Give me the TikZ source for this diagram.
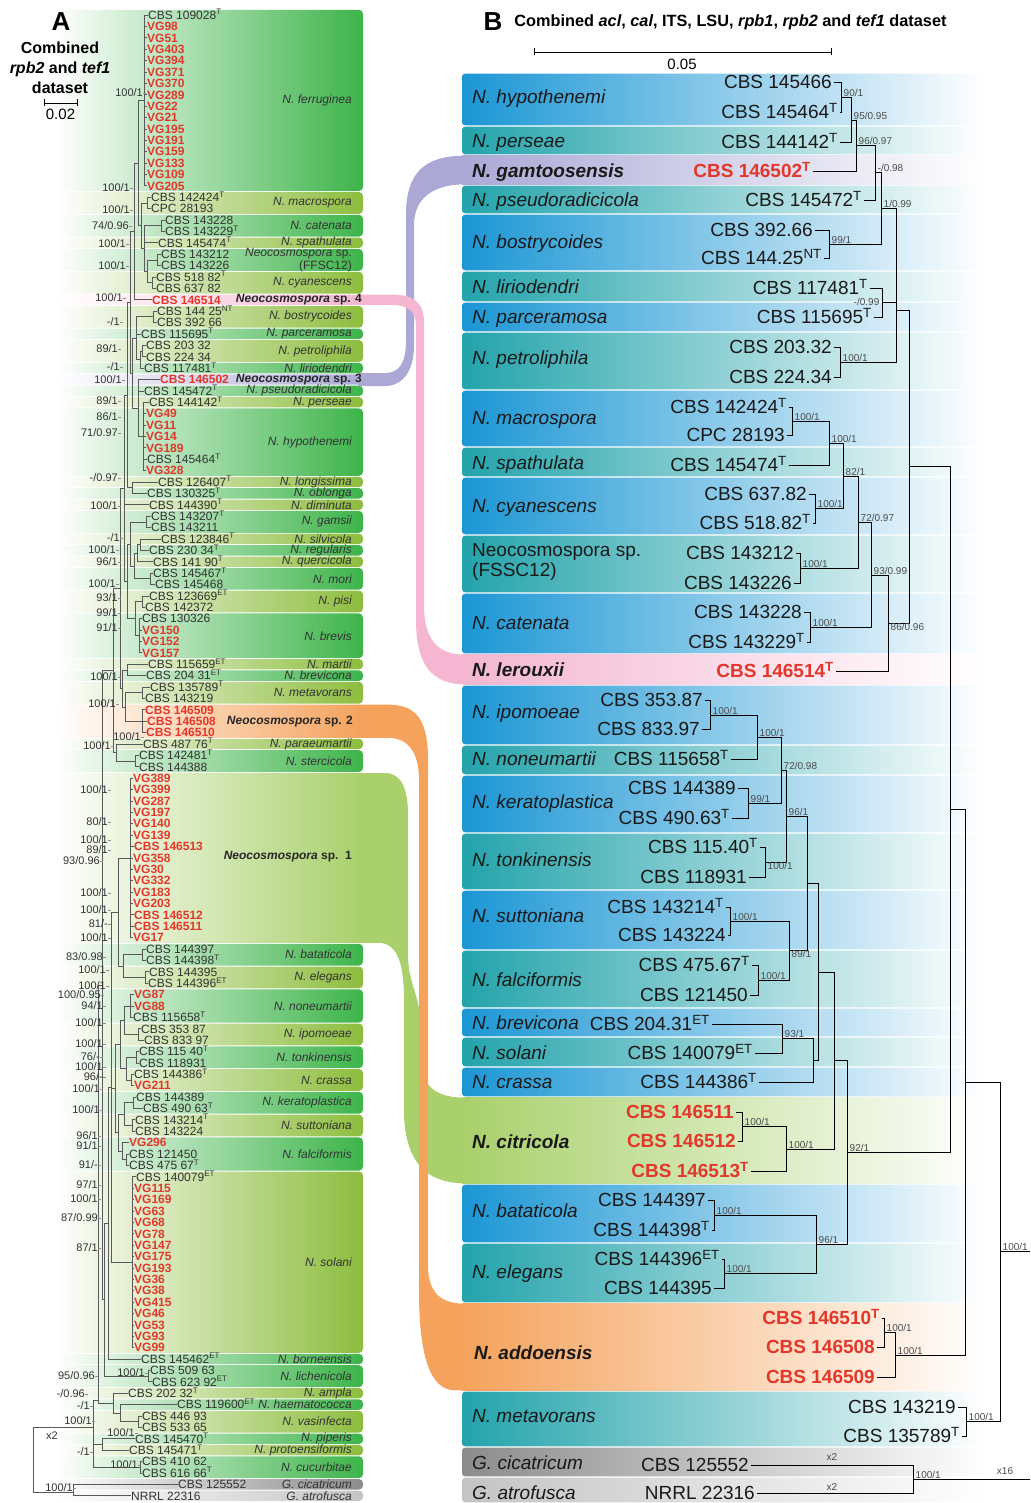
\documentclass[tikz,border=0pt]{standalone}
\usepackage{fontspec}
\setmainfont{Liberation Sans}
\usetikzlibrary{positioning}

\definecolor{grnA}{HTML}{3DB44A}
\definecolor{olvA}{HTML}{8DBD3E}
\definecolor{lgtA}{HTML}{A9D06B}
\definecolor{pnkA}{HTML}{F4B6D1}
\definecolor{lavA}{HTML}{ABA8D6}
\definecolor{orgA}{HTML}{F5A25C}
\definecolor{gryD}{HTML}{8C8C8C}
\definecolor{gryL}{HTML}{C4C4C4}
\definecolor{bluB}{HTML}{1B96D4}
\definecolor{tealB}{HTML}{23A3AB}
\definecolor{redT}{HTML}{E2382B}
\definecolor{txtA}{HTML}{333333}

\newcommand{\sps}[1]{\textsuperscript{#1}}
\pgfmathdeclarefunction{rowy}{1}{\pgfmathparse{15+11.39*(#1-1)}}

\begin{document}
\begin{tikzpicture}[
  x=1pt, y=-1pt,
  lfA/.style={font=\fontsize{12}{12}\selectfont, text=txtA, inner sep=0pt, anchor=west, text height=8.6pt, text depth=0pt},
  rdA/.style={lfA, text=redT, font=\fontsize{12}{12}\selectfont\bfseries},
  spA/.style={font=\fontsize{12}{13}\selectfont\itshape, text=txtA, inner sep=0pt, anchor=east, align=right},
  bspA/.style={font=\fontsize{12}{12}\selectfont\bfseries\itshape, text=black!85, inner sep=0pt, anchor=east},
  supA/.style={font=\fontsize{11}{11}\selectfont, text=txtA, inner sep=0pt, anchor=east},
  brA/.style={draw=black!65, line width=0.7pt},
  ldA/.style={draw=black!45, line width=0.45pt},
  lfB/.style={font=\fontsize{19}{19}\selectfont, text=black!90, inner sep=0pt, anchor=east, text height=13.6pt, text depth=0pt},
  rdB/.style={lfB, text=redT, font=\fontsize{19}{19}\selectfont\bfseries},
  spB/.style={font=\fontsize{19}{19}\selectfont\itshape, text=black!90, inner sep=0pt, anchor=west, text height=13.6pt, text depth=0pt},
  bsB/.style={spB, font=\fontsize{19}{19}\selectfont\bfseries\itshape},
  supB/.style={font=\fontsize{10}{10}\selectfont, text=black!70, inner sep=0.5pt},
  brB/.style={draw=black, line width=0.9pt},
  bl/.style={brB, shorten <=2pt},
  bll/.style={brB, shorten <=2pt, shorten >=2pt}
]
\useasboundingbox (0,0) rectangle (1030,1503);

% ---------------- Panel A: clade bands
\foreach \ra/\rb/\cl/\lbl [count=\k] in {
  1/16/grnA/{N. ferruginea}, 17/18/olvA/{N. macrospora}, 19/20/grnA/{N. catenata},
  21/21/olvA/{N. spathulata}, 22/23/grnA/{Neocosmospora \textup{sp.}\\\textup{(FFSC12)}},
  24/25/olvA/{N. cyanescens}, 26/26/pnkA/{}, 27/28/olvA/{N. bostrycoides},
  29/29/grnA/{N. parceramosa}, 30/31/olvA/{N. petroliphila}, 32/32/grnA/{N. liriodendri},
  33/33/lavA/{}, 34/34/grnA/{N. pseudoradicicola}, 35/35/olvA/{N. perseae},
  36/41/grnA/{N. hypothenemi}, 42/42/olvA/{N. longissima}, 43/43/grnA/{N. oblonga},
  44/44/olvA/{N. diminuta}, 45/46/grnA/{N. gamsii}, 47/47/olvA/{N. silvicola},
  48/48/grnA/{N. regularis}, 49/49/olvA/{N. quercicola}, 50/51/grnA/{N. mori},
  52/53/olvA/{N. pisi}, 54/57/grnA/{N. brevis}, 58/58/olvA/{N. martii},
  59/59/grnA/{N. brevicona}, 60/61/olvA/{N. metavorans}, 62/64/orgA/{},
  65/65/olvA/{N. paraeumartii}, 66/67/grnA/{N. stercicola}, 68/82/lgtA/{},
  83/84/grnA/{N. bataticola}, 85/86/olvA/{N. elegans}, 87/89/grnA/{N. noneumartii},
  90/91/olvA/{N. ipomoeae}, 92/93/grnA/{N. tonkinensis}, 94/95/olvA/{N. crassa},
  96/97/grnA/{N. keratoplastica}, 98/99/olvA/{N. suttoniana}, 100/102/grnA/{N. falciformis},
  103/118/olvA/{N. solani}, 119/119/grnA/{N. borneensis}, 120/121/grnA/{N. lichenicola},
  122/122/olvA/{N. ampla}, 123/123/grnA/{N. haematococca}, 124/125/olvA/{N. vasinfecta},
  126/126/grnA/{N. piperis}, 127/127/olvA/{N. protoensiformis}, 128/129/grnA/{N. cucurbitae},
  130/130/gryD/{G. cicatricum}, 131/131/gryL/{G. atrofusca}}{
  \pgfmathsetmacro\yt{rowy(\ra)-5.2}
  \pgfmathsetmacro\yb{rowy(\rb)+5.2}
  \pgfmathsetmacro\ym{(rowy(\ra)+rowy(\rb))/2}
  \shade[left color=white, right color=\cl, rounded corners=4pt] (55,\yt) rectangle (363,\yb);
  \node[spA] (bandA\k) at (352,\ym) {\lbl};
}

% ---------------- Panel B: clade bands
\foreach \yt/\yb/\cl in {73/126/bluB, 126/155/tealB, 185/214/tealB, 214/271/bluB,
  271/302/tealB, 302/332/bluB, 332/390/tealB, 390/447/bluB, 447/477/tealB,
  477/535/bluB, 535/593/tealB, 593/654/bluB, 685/745/bluB, 745/775/tealB,
  775/833/bluB, 833/890/tealB, 890/950/bluB, 950/1008/tealB, 1008/1037/bluB,
  1037/1067/tealB, 1067/1097/bluB, 1184/1243/bluB, 1243/1303/tealB,
  1391/1447/tealB, 1447/1477/gryD, 1477/1503/gryL}
  \shade[left color=\cl, right color=white, rounded corners=3pt] (462,\yt+0.7) rectangle (985,\yb-0.7);
\foreach \yt/\yb/\cl in {155/185/lavA, 654/685/pnkA, 1097/1184/lgtA, 1303/1391/orgA}
  \shade[left color=\cl, right color=white] (462,\yt+0.7) rectangle (985,\yb-0.7);

% ---------------- ribbons linking the new species
\fill[lavA] (358,373) -- (385,373) .. controls (400,373) and (406,362) .. (406,340)
  -- (406,215) .. controls (406,172) and (425,155.7) .. (465,155.7) -- (465,184.3)
  .. controls (435,184.3) and (414,197) .. (414,225) -- (414,345)
  .. controls (414,372) and (402,386) .. (385,386) -- (358,386) -- cycle;
\fill[pnkA] (358,294.6) -- (392,294.6) .. controls (410,294.6) and (424,300) .. (424,322)
  -- (424,605) .. controls (424,640) and (438,654.7) .. (465,654.7) -- (465,684.3)
  .. controls (432,684.3) and (416,665) .. (416,620) -- (416,325)
  .. controls (416,312) and (408,305) .. (392,305) -- (358,305) -- cycle;
\fill[lgtA] (358,773) -- (385,773) .. controls (402,773) and (408,790) .. (408,815)
  -- (408,955) .. controls (408,985) and (421,995) .. (421,1030) -- (421,1060)
  .. controls (421,1085) and (435,1097.7) .. (465,1097.7) -- (465,1183.3)
  .. controls (425,1183.3) and (404,1160) .. (404,1110) -- (404,1000)
  .. controls (404,960) and (396,942.8) .. (378,942.8) -- (358,942.8) -- cycle;
\fill[orgA] (358,704.6) -- (388,704.6) .. controls (418,704.6) and (428,722) .. (428,760)
  -- (428,1265) .. controls (428,1292) and (440,1303.7) .. (465,1303.7) -- (465,1390.3)
  -- (455,1390.3) .. controls (428,1390.3) and (419,1350) .. (419,1290) -- (419,780)
  .. controls (419,752) and (408,737.8) .. (388,737.8) -- (358,737.8) -- cycle;

% ---------------- Panel A: headings and scale
\node[font=\fontsize{26}{26}\selectfont\bfseries] (hdA) at (61,22) {A};
\node[font=\fontsize{16}{20}\selectfont\bfseries, align=center] (ttA) at (60,68) {Combined\\\textit{rpb2} and \textit{tef1}\\dataset};
\coordinate (scA1) at (44,103);
\coordinate (scA2) at (77,103);
\draw[line width=0.9pt] (scA1) -- (scA2) (scA1) ++(0,-3.5) -- ++(0,7) (scA2) ++(0,-3.5) -- ++(0,7);
\node[font=\fontsize{15}{15}\selectfont] (scAl) at (60.5,114) {0.02};

% ---------------- Panel A: tree
\foreach \x/\ya/\yb/\px/\by in {
  144/15/185.9/138/100.5, 147/197.2/208.6/141/202.9, 161/220/231.4/144/225.7,
  157/254.2/265.6/147/259.9, 152/277/288.4/147/282.7, 147/259.9/282.7/144/271.3,
  144/225.7/271.3/141/248.5, 141/202.9/248.5/138/225.7, 138/100.5/225.7/134/163.1,
  134/163.1/299.8/130/231.5, 153/311.1/322.5/136/316.8, 142/345.3/356.7/140/351,
  140/351/368.1/136/359.6, 136/316.8/359.6/132/338.2, 143/402.3/470.6/138/436.5,
  138/379.5/436.5/132/408, 132/338.2/408/130/373.1, 130/231.5/373.1/127/302.3,
  132/482/493.4/127/487.7, 127/302.3/487.7/124/395, 146/516.2/527.6/130/521.9,
  140/538.9/550.3/137/544.6, 137/544.6/561.7/134/553.2, 150/573.1/584.5/134/578.8,
  134/553.2/578.8/130/566, 130/521.9/566/127/544, 142/595.9/607.3/135/601.6,
  139/618.7/652.8/135/635.8, 135/601.6/635.8/127/618.7, 127/544/618.7/124/581.4,
  124/395/581.4/120/488.2, 127/664.2/675.6/122/669.9, 142/687/698.4/125/692.7,
  142/709.8/732.6/125/721.2, 125/692.7/721.2/122/707, 122/669.9/707/120/688.5,
  120/488.2/688.5/113/588.4, 135/755.4/766.7/116/761, 116/744/761/113/752.5,
  113/588.4/752.5/102/670.5, 130/778.1/937.6/118/857.9, 142/949/960.4/123/954.7,
  145/971.8/983.2/123/977.5, 123/954.7/977.5/118/966.1, 118/857.9/966.1/111/912,
  130/994.5/1017.3/124/1005.9, 138/1028.7/1040.1/124/1034.4, 124/1005.9/1034.4/120/1020.2,
  136/1051.5/1062.9/126/1057.2, 131/1074.3/1085.7/126/1080, 126/1057.2/1080/120/1068.6,
  120/1020.2/1068.6/115/1044.4, 133/1097.1/1108.4/124/1102.8, 132/1119.8/1131.2/124/1125.5,
  124/1102.8/1125.5/118/1114.2, 126/1154/1165.4/122/1159.7, 122/1142.6/1159.7/118/1151.2,
  118/1114.2/1151.2/115/1132.7, 115/1044.4/1132.7/111/1088.6, 132/1176.8/1347.6/111/1262.2,
  111/912/1262.2/108/1087.1, 108/1087.1/1359/104/1223, 148/1370.4/1381.8/104/1376.1,
  104/1223/1376.1/102/1299.5, 102/670.5/1299.5/98/985, 138/1416/1427.4/120/1421.7,
  120/1404.6/1421.7/113/1413.1, 113/1393.2/1413.1/98/1403.2, 98/985/1403.2/93/1400,
  102/1438.8/1450.1/93/1444.5, 140/1461.5/1472.9/93/1467.2, 93/1400/1467.2/33/1427,
  73/1484.3/1495.7/33/1492, 33/1427/1492/33/1460}
  \draw[brA] (\x,\ya) -- (\x,\yb) (\px,\by) -- (\x,\by);

% Panel A: strains (black)
\foreach \i/\xt/\xb/\txt in {
  1/148/144/{CBS 109028\sps{T}}, 17/151/147/{CBS 142424\sps{T}}, 18/151/147/{CPC 28193},
  19/165/161/{CBS 143228}, 20/165/161/{CBS 143229\sps{T}}, 21/158/144/{CBS 145474\sps{T}},
  22/161/157/{CBS 143212}, 23/161/157/{CBS 143226}, 24/156/152/{CBS 518 82\sps{T}},
  25/156/152/{CBS 637 82}, 27/157/153/{CBS 144 25\sps{NT}}, 28/157/153/{CBS 392 66},
  29/141/136/{CBS 115695\sps{T}}, 30/146/142/{CBS 203 32}, 31/146/142/{CBS 224 34},
  32/144/140/{CBS 117481\sps{T}}, 34/144/138/{CBS 145472\sps{T}}, 35/149/143/{CBS 144142\sps{T}},
  40/147/143/{CBS 145464\sps{T}}, 42/158/132/{CBS 126407\sps{T}}, 43/147/132/{CBS 130325\sps{T}},
  44/149/124/{CBS 144390\sps{T}}, 45/151/146/{CBS 143207\sps{T}}, 46/151/146/{CBS 143211},
  47/161/140/{CBS 123846\sps{T}}, 48/149/140/{CBS 230 34\sps{T}}, 49/153/137/{CBS 141 90\sps{T}},
  50/153/150/{CBS 145467\sps{T}}, 51/155/150/{CBS 145468}, 52/149/142/{CBS 123669\sps{ET}},
  53/145/142/{CBS 142372}, 54/142/139/{CBS 130326}, 58/148/127/{CBS 115659\sps{ET}},
  59/146/127/{CBS 204 31\sps{ET}}, 60/150/142/{CBS 135789\sps{T}}, 61/145/142/{CBS 143219},
  65/143/116/{CBS 487 76\sps{T}}, 66/139/135/{CBS 142481\sps{T}}, 67/139/135/{CBS 144388},
  83/146/142/{CBS 144397}, 84/146/142/{CBS 144398\sps{T}}, 85/149/145/{CBS 144395},
  86/148/145/{CBS 144396\sps{ET}}, 89/133/130/{CBS 115658\sps{T}}, 90/141/138/{CBS 353 87},
  91/144/138/{CBS 833 97}, 92/139/136/{CBS 115 40\sps{T}}, 93/139/136/{CBS 118931},
  94/134/131/{CBS 144386\sps{T}}, 96/136/133/{CBS 144389}, 97/143/133/{CBS 490 63\sps{T}},
  98/135/132/{CBS 143214\sps{T}}, 99/135/132/{CBS 143224}, 101/129/126/{CBS 121450},
  102/129/126/{CBS 475 67\sps{T}}, 103/136/132/{CBS 140079\sps{ET}}, 119/141/108/{CBS 145462\sps{ET}},
  120/150/148/{CBS 509 63}, 121/152/148/{CBS 623 92\sps{ET}}, 122/128/113/{CBS 202 32\sps{T}},
  123/177/120/{CBS 119600\sps{ET}}, 124/142/138/{CBS 446 93}, 125/142/138/{CBS 533 65},
  126/135/102/{CBS 145470\sps{T}}, 127/129/102/{CBS 145471\sps{T}}, 128/142/140/{CBS 410 62},
  129/142/140/{CBS 616 66\sps{T}}, 130/178/73/{CBS 125552}, 131/131/73/{NRRL 22316}}{
  \node[lfA] (a\i) at (\xt,{rowy(\i)}) {\txt};
  \draw[brA] (\xb,{rowy(\i)}) -- (a\i.west);
}
% Panel A: strains (red)
\foreach \i/\xt/\xb/\txt in {
  2/147/144/VG98, 3/147/144/VG51, 4/147/144/VG403, 5/147/144/VG394, 6/147/144/VG371,
  7/147/144/VG370, 8/147/144/VG289, 9/147/144/VG22, 10/147/144/VG21, 11/147/144/VG195,
  12/147/144/VG191, 13/147/144/VG159, 14/147/144/VG133, 15/147/144/VG109, 16/147/144/VG205,
  26/152/134/{CBS 146514}, 33/160/138/{CBS 146502}, 36/146/143/VG49, 37/146/143/VG11,
  38/146/143/VG14, 39/146/143/VG189, 41/146/143/VG328, 55/142/139/VG150, 56/142/139/VG152,
  57/142/139/VG157, 62/145/142/{CBS 146509}, 63/147/142/{CBS 146508}, 64/146/142/{CBS 146510},
  68/133/130/VG389, 69/133/130/VG399, 70/133/130/VG287, 71/133/130/VG197, 72/133/130/VG140,
  73/133/130/VG139, 74/134/130/{CBS 146513}, 75/133/130/VG358, 76/133/130/VG30,
  77/133/130/VG332, 78/133/130/VG183, 79/133/130/VG203, 80/134/130/{CBS 146512},
  81/134/130/{CBS 146511}, 82/133/130/VG17, 87/134/130/VG87, 88/134/130/VG88,
  95/134/131/VG211, 100/129/122/VG296, 104/134/132/VG115, 105/134/132/VG169,
  106/134/132/VG63, 107/134/132/VG68, 108/134/132/VG78, 109/134/132/VG147,
  110/134/132/VG175, 111/134/132/VG193, 112/134/132/VG36, 113/134/132/VG38,
  114/134/132/VG415, 115/134/132/VG46, 116/134/132/VG53, 117/134/132/VG93, 118/134/132/VG99}{
  \node[rdA] (a\i) at (\xt,{rowy(\i)}) {\txt};
  \draw[brA] (\xb,{rowy(\i)}) -- (a\i.west);
}

% Panel A: new species names
\node[bspA] (sp4A) at (362,{rowy(26)}) {Neocosmospora \textup{sp. 4}};
\node[bspA] (sp3A) at (362,{rowy(33)}) {Neocosmospora \textup{sp. 3}};
\node[bspA] (sp2A) at (353,{rowy(63)}) {Neocosmospora \textup{sp. 2}};
\node[bspA] (sp1A) at (352,857) {Neocosmospora \textup{sp.\ \ 1}};

% Panel A: support values
\foreach \xr/\yy/\txt [count=\k] in {
  143/93/{100/1}, 130/188/{100/1}, 130/210/{100/1}, 129/226/{74/0.96}, 126/244/{100/1},
  126/266/{100/1}, 123/298/{100/1}, 120/322/{-/1}, 118/349/{89/1}, 120/367/{-/1},
  122/380/{100/1}, 118/401/{89/1}, 118/417/{86/1}, 118/433/{71/0.97}, 118/478/{-/0.97},
  118/506/{100/1}, 120/538/{-/1}, 116/550/{100/1}, 118/562/{96/1}, 116/584/{100/1},
  118/598/{93/1}, 118/613/{99/1}, 118/628/{91/1}, 118/677/{100/1}, 116/704/{100/1},
  141/737/{100/1}, 111/746/{100/1}, 108/790/{100/1}, 108/822/{80/1}, 108/840/{100/1},
  108/850/{89/1}, 100/861/{93/0.96}, 108/893/{100/1}, 108/910/{100/1}, 108/924/{81/-},
  108/938/{100/1}, 103/957/{83/0.98}, 106/970/{100/1}, 106/986/{100/1}, 101/995/{100/0.95},
  103/1006/{94/1}, 103/1023/{100/1}, 103/1044/{100/1}, 100/1057/{76/-}, 103/1067/{100/1},
  103/1077/{96/-}, 100/1089/{100/1}, 100/1110/{100/1}, 98/1136/{96/1}, 98/1146/{91/1},
  98/1165/{91/-}, 98/1185/{97/1}, 98/1199/{100/1}, 98/1218/{87/0.99}, 98/1248/{87/1},
  145/1373/{100/1}, 95/1376/{95/0.96}, 85/1394/{-/0.96}, 90/1406/{-/1}, 92/1421/{100/1},
  135/1433/{100/1}, 90/1452/{-/1}, 138/1465/{100/1}, 73/1488/{100/1}}{
  \node[supA] (sA\k) at (\xr,\yy) {\txt};
  \draw[ldA] (sA\k.east) -- ++(3,0);
}
\node[supA] (xA) at (58,1436) {x2};

% ---------------- Panel B: heading and scale
\node[font=\fontsize{26}{26}\selectfont\bfseries] (hdB) at (493,22) {B};
\node[font=\fontsize{16.3}{16.3}\selectfont\bfseries, right=5pt of hdB] (ttB) {Combined \textit{acl}, \textit{cal}, ITS, LSU, \textit{rpb1}, \textit{rpb2} and \textit{tef1} dataset};
\coordinate (scB1) at (534,52);
\coordinate (scB2) at (831,52);
\draw[line width=0.9pt] (scB1) -- (scB2) (scB1) ++(0,-3.5) -- ++(0,7) (scB2) ++(0,-3.5) -- ++(0,7);
\node[font=\fontsize{15}{15}\selectfont] (scBl) at (682,64) {0.05};

% Panel B: species names
\foreach \yy/\lbl [count=\k] in {97/{N. hypothenemi}, 141/{N. perseae}, 200/{N. pseudoradicicola},
  242/{N. bostrycoides}, 287/{N. liriodendri}, 317/{N. parceramosa}, 358/{N. petroliphila},
  418/{N. macrospora}, 463/{N. spathulata}, 506/{N. cyanescens}, 623/{N. catenata},
  712/{N. ipomoeae}, 759/{N. noneumartii}, 802/{N. keratoplastica}, 860/{N. tonkinensis},
  916/{N. suttoniana}, 980/{N. falciformis}, 1023/{N. brevicona}, 1053/{N. solani},
  1082/{N. crassa}, 1211/{N. bataticola}, 1272/{N. elegans}, 1416/{N. metavorans},
  1463/{G. cicatricum}, 1493/{G. atrofusca}}
  \node[spB] (lbB\k) at (472,\yy) {\lbl};
\node[bsB] (gamB) at (472,171) {N. gamtoosensis};
\node[bsB] (lerB) at (472,670) {N. lerouxii};
\node[bsB] (citB) at (472,1142) {N. citricola};
\node[bsB] (addB) at (474,1353) {N. addoensis};
\node[font=\fontsize{19}{20}\selectfont, text=black!90, inner sep=0pt, anchor=west, align=left] (fssB) at (472,562) {Neocosmospora sp.\\(FSSC12)};

% Panel B: strains
\foreach \n/\xr/\yy/\txt in {
  1/832/82/{CBS 145466}, 2/838/112/{CBS 145464\sps{T}}, 3/838/142/{CBS 144142\sps{T}},
  5/862/200/{CBS 145472\sps{T}}, 6/813/230/{CBS 392.66}, 7/822/258/{CBS 144.25\sps{NT}},
  8/868/288/{CBS 117481\sps{T}}, 9/872/317/{CBS 115695\sps{T}}, 10/832/347/{CBS 203.32},
  11/832/377/{CBS 224.34}, 12/787/407/{CBS 142424\sps{T}}, 13/785/435/{CPC 28193},
  14/787/465/{CBS 145474\sps{T}}, 15/807/494/{CBS 637.82}, 16/811/523/{CBS 518.82\sps{T}},
  17/794/553/{CBS 143212}, 18/792/583/{CBS 143226}, 19/802/612/{CBS 143228},
  20/805/642/{CBS 143229\sps{T}}, 22/703/700/{CBS 353.87}, 23/700/729/{CBS 833.97},
  24/729/759/{CBS 115658\sps{T}}, 25/736/788/{CBS 144389}, 26/730/818/{CBS 490.63\sps{T}},
  27/758/847/{CBS 115.40\sps{T}}, 28/747/877/{CBS 118931}, 29/724/907/{CBS 143214\sps{T}},
  30/726/935/{CBS 143224}, 31/750/965/{CBS 475.67\sps{T}}, 32/748/995/{CBS 121450},
  33/710/1024/{CBS 204.31\sps{ET}}, 34/753/1053/{CBS 140079\sps{ET}}, 35/757/1082/{CBS 144386\sps{T}},
  39/706/1200/{CBS 144397}, 40/710/1230/{CBS 144398\sps{T}}, 41/720/1259/{CBS 144396\sps{ET}},
  42/712/1288/{CBS 144395}, 46/956/1407/{CBS 143219}, 47/960/1436/{CBS 135789\sps{T}},
  48/749/1465/{CBS 125552}, 49/755/1493/{NRRL 22316}}
  \node[lfB] (b\n) at (\xr,\yy) {\txt};
\foreach \n/\xr/\yy/\txt in {
  4/811/171/{CBS 146502\sps{T}}, 21/834/671/{CBS 146514\sps{T}}, 36/734/1112/{CBS 146511},
  37/736/1141/{CBS 146512}, 38/749/1171/{CBS 146513\sps{T}}, 43/880/1318/{CBS 146510\sps{T}},
  44/875/1347/{CBS 146508}, 45/875/1377/{CBS 146509}}
  \node[rdB] (b\n) at (\xr,\yy) {\txt};

% Panel B: internal nodes
\coordinate (p1) at (841,97);  \coordinate (p2) at (851,120); \coordinate (p3) at (856,145);
\coordinate (p4) at (875,172); \coordinate (p5) at (881,208); \coordinate (p6) at (829,244);
\coordinate (p7) at (882,302); \coordinate (p8) at (840,362); \coordinate (p9) at (896,310);
\coordinate (p10) at (909,466); \coordinate (p11) at (792,421); \coordinate (p12) at (829,443);
\coordinate (p13) at (815,508); \coordinate (p14) at (843,476); \coordinate (p15) at (800,568);
\coordinate (p16) at (858,522); \coordinate (p17) at (810,627); \coordinate (p18) at (871,575);
\coordinate (p19) at (888,623);
\coordinate (q1) at (710,715); \coordinate (q2) at (757,737); \coordinate (q3) at (748,803);
\coordinate (q4) at (781,770); \coordinate (q5) at (765,862); \coordinate (q6) at (786,816);
\coordinate (q7) at (730,921); \coordinate (q8) at (758,980); \coordinate (q9) at (789,950);
\coordinate (q10) at (807,883); \coordinate (q11) at (782,1038); \coordinate (q12) at (813,1060);
\coordinate (q13) at (818,972); \coordinate (q14) at (742,1126); \coordinate (q15) at (786,1149);
\coordinate (q16) at (834,1060); \coordinate (q17) at (714,1215); \coordinate (q18) at (724,1273);
\coordinate (q19) at (816,1244); \coordinate (q20) at (847,1152);
\coordinate (nZ) at (950,809); \coordinate (r1) at (884,1332); \coordinate (r2) at (895,1355);
\coordinate (nW) at (965,1082); \coordinate (r3) at (966,1421); \coordinate (nV) at (1000,1251);
\coordinate (o1) at (913,1479); \coordinate (rtV) at (1030,1251); \coordinate (rtO) at (1030,1479);

% Panel B: branches
\draw[bll] (b1.east) -| (p1) |- (b2.east);
\draw[bl] (b3.east) -| (p2) |- (p1);
\draw[bl] (b4.east) -| (p3) |- (p2);
\draw[bl] (b5.east) -| (p4) |- (p3);
\draw[bll] (b6.east) -| (p6) |- (b7.east);
\draw[brB] (p4) -| (p5) |- (p6);
\draw[bll] (b8.east) -| (p7) |- (b9.east);
\draw[bll] (b10.east) -| (p8) |- (b11.east);
\draw[brB] (p5) -| (p9) |- (p8);
\draw[brB] (p7) -| (p9);
\draw[brB] (p9) -| (p10) |- (p19);
\draw[bll] (b12.east) -| (p11) |- (b13.east);
\draw[bl] (b14.east) -| (p12) |- (p11);
\draw[bll] (b15.east) -| (p13) |- (b16.east);
\draw[brB] (p12) -| (p14) |- (p13);
\draw[bll] (b17.east) -| (p15) |- (b18.east);
\draw[brB] (p14) -| (p16) |- (p15);
\draw[bll] (b19.east) -| (p17) |- (b20.east);
\draw[brB] (p16) -| (p18) |- (p17);
\draw[bl] (b21.east) -| (p19) |- (p18);
\draw[bll] (b22.east) -| (q1) |- (b23.east);
\draw[bl] (b24.east) -| (q2) |- (q1);
\draw[bll] (b25.east) -| (q3) |- (b26.east);
\draw[brB] (q2) -| (q4) |- (q3);
\draw[bll] (b27.east) -| (q5) |- (b28.east);
\draw[brB] (q4) -| (q6) |- (q5);
\draw[bll] (b29.east) -| (q7) |- (b30.east);
\draw[bll] (b31.east) -| (q8) |- (b32.east);
\draw[brB] (q7) -| (q9) |- (q8);
\draw[brB] (q6) -| (q10) |- (q9);
\draw[bll] (b33.east) -| (q11) |- (b34.east);
\draw[bl] (b35.east) -| (q12) |- (q11);
\draw[brB] (q10) -| (q13) |- (q12);
\draw[bll] (b36.east) -| (q14) |- (b37.east);
\draw[bl] (b38.east) -| (q15) |- (q14);
\draw[brB] (q13) -| (q16) |- (q15);
\draw[bll] (b39.east) -| (q17) |- (b40.east);
\draw[bll] (b41.east) -| (q18) |- (b42.east);
\draw[brB] (q17) -| (q19) |- (q18);
\draw[brB] (q16) -| (q20) |- (q19);
\draw[brB] (p10) -| (nZ) |- (q20);
\draw[bll] (b43.east) -| (r1) |- (b44.east);
\draw[bl] (b45.east) -| (r2) |- (r1);
\draw[brB] (nZ) -| (nW) |- (r2);
\draw[bll] (b46.east) -| (r3) |- (b47.east);
\draw[brB] (nW) -| (nV) |- (r3);
\draw[brB] (nV) -- (rtV);
\draw[bll] (b48.east) -| (o1) |- (b49.east);
\draw[brB] (o1) -- (rtO);

% Panel B: support values
\node[supB, above right=0pt and 2pt of p1] (s-p1) {90/1};
\node[supB, above right=0pt and 2pt of p2] (s-p2) {95/0.95};
\node[supB, above right=0pt and 2pt of p3] (s-p3) {96/0.97};
\node[supB, above right=0pt and 2pt of p4] (s-p4) {-/0.98};
\node[supB, above right=0pt and 2pt of p5] (s-p5) {1/0.99};
\node[supB, above right=0pt and 2pt of p6] (s-p6) {99/1};
\node[supB, left=2pt of p7] (s-p7) {-/0.99};
\node[supB, above right=0pt and 2pt of p8] (s-p8) {100/1};
\node[supB, above right=0pt and 2pt of p11] (s-p11) {100/1};
\node[supB, above right=0pt and 2pt of p12] (s-p12) {100/1};
\node[supB, above right=0pt and 2pt of p13] (s-p13) {100/1};
\node[supB, above right=0pt and 2pt of p14] (s-p14) {82/1};
\node[supB, above right=0pt and 2pt of p15] (s-p15) {100/1};
\node[supB, above right=0pt and 2pt of p16] (s-p16) {72/0.97};
\node[supB, above right=0pt and 2pt of p17] (s-p17) {100/1};
\node[supB, above right=0pt and 2pt of p18] (s-p18) {93/0.99};
\node[supB, below right=0pt and 2pt of p19] (s-p19) {86/0.96};
\node[supB, above right=0pt and 2pt of q1] (s-q1) {100/1};
\node[supB, above right=0pt and 2pt of q2] (s-q2) {100/1};
\node[supB, above right=0pt and 2pt of q3] (s-q3) {99/1};
\node[supB, above right=0pt and 2pt of q4] (s-q4) {72/0.98};
\node[supB, below right=0pt and 2pt of q5] (s-q5) {100/1};
\node[supB, above right=0pt and 2pt of q6] (s-q6) {96/1};
\node[supB, above right=0pt and 2pt of q7] (s-q7) {100/1};
\node[supB, above right=0pt and 2pt of q8] (s-q8) {100/1};
\node[supB, below right=0pt and 2pt of q9] (s-q9) {89/1};
\node[supB, above right=0pt and 2pt of q11] (s-q11) {93/1};
\node[supB, above right=0pt and 2pt of q14] (s-q14) {100/1};
\node[supB, above right=0pt and 2pt of q15] (s-q15) {100/1};
\node[supB, above right=0pt and 2pt of q17] (s-q17) {100/1};
\node[supB, above right=0pt and 2pt of q18] (s-q18) {100/1};
\node[supB, above right=0pt and 2pt of q19] (s-q19) {96/1};
\node[supB, above right=0pt and 2pt of q20] (s-q20) {92/1};
\node[supB, above right=0pt and 2pt of r1] (s-r1) {100/1};
\node[supB, above right=0pt and 2pt of r2] (s-r2) {100/1};
\node[supB, above right=0pt and 2pt of r3] (s-r3) {100/1};
\node[supB, above right=0pt and 2pt of nV] (s-nV) {100/1};
\node[supB, above right=0pt and 2pt of o1] (s-o1) {100/1};
\node[supB] (x2a) at (832,1457) {x2};
\node[supB] (x2b) at (832,1487) {x2};
\node[supB] (x16) at (1005,1471) {x16};
\end{tikzpicture}
\end{document}
